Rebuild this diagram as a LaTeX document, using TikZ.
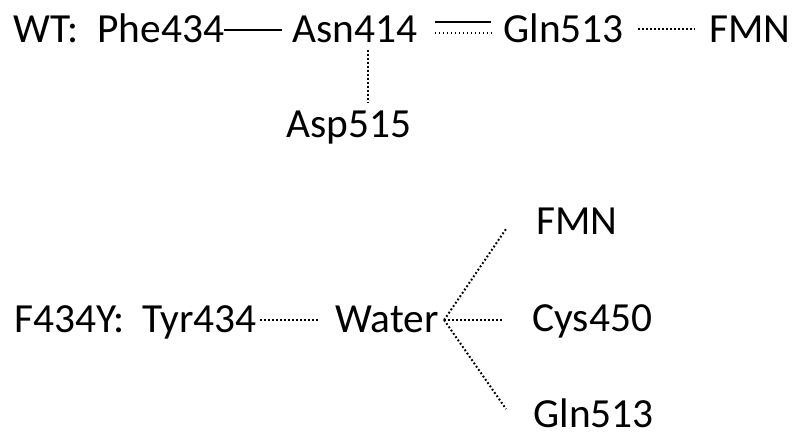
\documentclass[tikz,border=0pt]{standalone}
\usepackage{fontspec}
\setmainfont{Carlito}
\tikzset{
	res/.style={anchor=base west, inner sep=0pt, font=\fontsize{20.7pt}{25pt}\selectfont},
	bond/.style={line width=1.1pt},
	hbond/.style={line width=1pt, dash pattern=on 0.9pt off 1.1pt}
}
\begin{document}
\begin{tikzpicture}[x=0.5pt, y=-0.5pt]
		\useasboundingbox (0,0) rectangle (800,444);
		% wild type
		\node[res] (wt) at (13,43) {WT:};
		\node[res] (phe) at (97,43) {Phe434};
		\node[res] (asn) at (292,43) {Asn414};
		\node[res] (gln) at (503,43) {Gln513};
		\node[res] (fmn) at (709,43) {FMN};
		\node[res] (asp) at (286,138) {Asp515};
		\draw[bond] ([yshift=6.5pt]phe.base east) -- ([xshift=-5pt,yshift=6.5pt]asn.base west);
		\draw[bond] ([xshift=8.5pt,yshift=10.5pt]asn.base east) -- ([xshift=-6pt,yshift=10.5pt]gln.base west);
		\draw[hbond] ([xshift=8.5pt,yshift=5pt]asn.base east) -- ([xshift=-6pt,yshift=5pt]gln.base west);
		\draw[hbond] ([xshift=7pt,yshift=7pt]gln.base east) -- ([xshift=-7pt,yshift=7pt]fmn.base west);
		\draw[hbond] ([xshift=6.5pt,yshift=-3.5pt]asn.base) -- ([xshift=9.5pt,yshift=4pt]asp.north);
		% F434Y mutant
		\node[res] (mut) at (14,333) {F434Y:};
		\node[res] (tyr) at (142,333) {Tyr434};
		\node[res] (wat) at (335,333) {Water};
		\node[res] (fmnb) at (536,235) {FMN};
		\node[res] (cys) at (532,332) {Cys450};
		\node[res] (glnb) at (533,428) {Gln513};
		\coordinate (fan) at ([xshift=2.5pt,yshift=6.5pt]wat.base east);
		\draw[hbond] ([xshift=1.5pt,yshift=6.5pt]tyr.base east) -- ([xshift=-8.5pt,yshift=6.5pt]wat.base west);
		\draw[hbond] (fan) -- ([xshift=-15pt,yshift=3pt]fmnb.base west);
		\draw[hbond] (fan) -- ([xshift=-15pt,yshift=6pt]cys.base west);
		\draw[hbond] (fan) -- ([xshift=-13.5pt,yshift=9.5pt]glnb.base west);
\end{tikzpicture}
\end{document}
